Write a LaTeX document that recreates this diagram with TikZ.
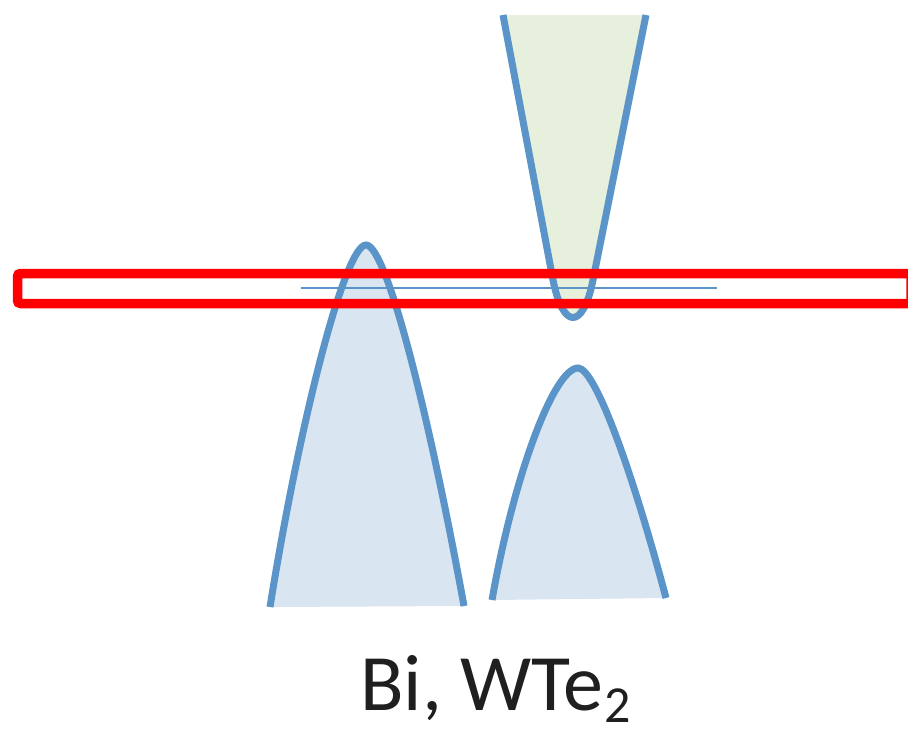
\documentclass[tikz,border=0pt]{standalone}
\usepackage{fontspec}
\setmainfont{Carlito}
\definecolor{bandline}{HTML}{5A94C8}
\definecolor{bluefill}{HTML}{D9E6F2}
\definecolor{greenfill}{HTML}{E7F0DD}
\definecolor{boxred}{HTML}{FF0000}
\begin{document}
\begin{tikzpicture}[x=1pt,y=-1pt,
  band/.style={draw=bandline,line width=7pt},
  redbox/.style={draw=boxred,line width=9.5pt,rounded corners=3pt},
  fermi/.style={draw=bandline,line width=2pt}]
\useasboundingbox (0,0) rectangle (908,734);
% conduction band (green)
\fill[greenfill] (503,15) -- (553,280) .. controls (563,330) and (583,330) .. (593,280) -- (646,15) -- cycle;
\path[band] (503,15) -- (553,280) .. controls (563,330) and (583,330) .. (593,280) -- (646,15);
% left valence band
\fill[bluefill] (270,607) .. controls (300,420) and (345,245) .. (366,245) .. controls (387,245) and (430,420) .. (464,606) -- cycle;
\path[band] (270,607) .. controls (300,420) and (345,245) .. (366,245) .. controls (387,245) and (430,420) .. (464,606);
% right valence band
\fill[bluefill] (492,600) .. controls (515,470) and (555,368) .. (578,368) .. controls (595,368) and (632,470) .. (666,598) -- cycle;
\path[band] (492,600) .. controls (515,470) and (555,368) .. (578,368) .. controls (595,368) and (632,470) .. (666,598);
% Fermi level
\coordinate (fl) at (301,288);
\coordinate (fr) at (717,288);
\draw[fermi] (fl) -- (fr);
% highlight box
\draw[redbox] (17.5,273.5) rectangle (911,303.5);
% label
\node[anchor=base west,inner sep=0pt,text=black!88,font=\fontsize{80}{96}\selectfont] (lab) at (360,710) {Bi, WTe\kern2pt\raisebox{-12pt}{\fontsize{52}{60}\selectfont 2}};
\end{tikzpicture}
\end{document}
